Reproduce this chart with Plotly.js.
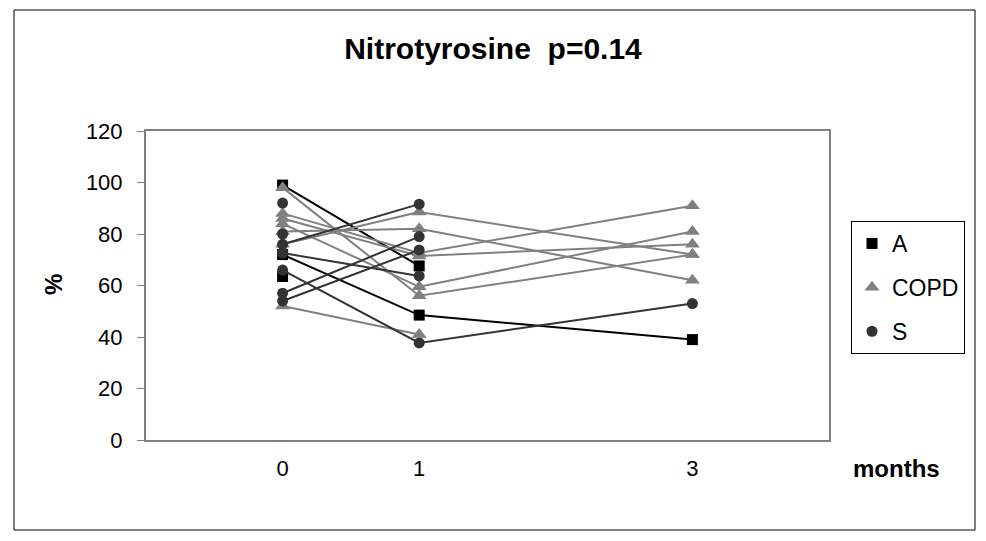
<!DOCTYPE html>
<html>
<head>
<meta charset="utf-8">
<script src="https://cdn.plot.ly/plotly-3.0.1.min.js"></script>
<style>html,body{margin:0;padding:0;background:#fff;}#chart{width:986px;height:541px;}</style>
</head>
<body>
<div id="chart"></div>
<script>
// x positions (months)
const months = [0, 1, 3];
const tickLabels = ["0", "1", "3"];

// Group A (black squares)
const A1 = [99, 67.6];
const A2 = [72, 48.5, 39];
const A3 = [63.5];

// COPD (grey triangles)
const C1 = [98, 56, 72];
const C2 = [76, 88.5, 72];
const C3 = [81, 82, 62];
const C4 = [88, 72.6, 91];
const C5 = [84, 59.5, 81];
const C6 = [52, 41];
const C7 = [86, 71.5, 76];

// S (dark grey circles)
const S1 = [76, 91.6];
const S2 = [57, 79];
const S3 = [54, 73.8];
const S4 = [66, 37.7, 53];
const S5 = [72.6, 63.7];
const S6 = [92];
const S7 = [80];

const groups = [
  {name: "A", color: "#000000", symbol: "square", size: 11, series: [A1, A2, A3]},
  {name: "COPD", color: "#808080", symbol: "triangle-up", size: 13, series: [C1, C2, C3, C4, C5, C6, C7]},
  {name: "S", color: "#333333", symbol: "circle", size: 11, series: [S1, S2, S3, S4, S5, S6, S7]}
];

const traces = [];
groups.forEach(g => {
  g.series.forEach(vals => {
    traces.push({
      x: months.slice(0, vals.length), y: vals,
      type: "scatter", mode: "lines+markers",
      line: {color: g.color, width: 2},
      marker: {color: g.color, symbol: g.symbol, size: g.size},
      showlegend: false, hoverinfo: "skip"
    });
  });
});
// legend-only entries (markers only)
groups.forEach((g, i) => {
  traces.push({
    x: [null], y: [null], type: "scatter", mode: "markers", name: g.name,
    legendgroup: "g" + i,
    marker: {color: g.color, symbol: g.symbol, size: g.size}
  });
});

const axisFont = {family: "Liberation Sans, Arial, sans-serif", size: 22, color: "#000"};
const layout = {
  width: 986, height: 541,
  margin: {l: 146, r: 157, t: 131, b: 101},
  paper_bgcolor: "#fff", plot_bgcolor: "#fff",
  title: {text: "<b>Nitrotyrosine \u00a0p=0.14</b>", x: 493/986, xanchor: "center", y: 1 - 48/541, yanchor: "middle",
          font: {family: "Liberation Sans, Arial, sans-serif", size: 30, color: "#000"}},
  xaxis: {range: [-1, 4], tickvals: months, ticktext: tickLabels, showgrid: false, zeroline: false,
          showline: true, linecolor: "#808080", linewidth: 2, mirror: true, ticks: "", ticklabelstandoff: 8,
          tickfont: axisFont, fixedrange: true},
  yaxis: {range: [0, 120], dtick: 20, showgrid: false, zeroline: false,
          showline: true, linecolor: "#808080", linewidth: 2, mirror: true,
          ticks: "outside", ticklen: 7, tickcolor: "#808080", tickwidth: 1, ticklabelstandoff: 10,
          tickfont: axisFont, fixedrange: true},
  showlegend: true,
  legend: {x: (851-146)/683, xanchor: "left", y: (440-221)/309, yanchor: "top",
           bordercolor: "#000", borderwidth: 1, bgcolor: "#fff", tracegroupgap: 11,
           font: {family: "Liberation Sans, Arial, sans-serif", size: 23, color: "#000"}, itemwidth: 30},
  annotations: [
    {text: "<b>months</b>", xref: "paper", yref: "paper", x: (896-146)/683, y: (440-468)/309,
     xanchor: "center", yanchor: "middle", showarrow: false,
     font: {family: "Liberation Sans, Arial, sans-serif", size: 24, color: "#000"}},
    {text: "<b>%</b>", xref: "paper", yref: "paper", x: (53-146)/683, y: (440-285)/309, textangle: -90,
     xanchor: "center", yanchor: "middle", showarrow: false,
     font: {family: "Liberation Sans, Arial, sans-serif", size: 24, color: "#000"}}
  ],
  shapes: [
    {type: "rect", xref: "paper", yref: "paper", x0: (14-146)/683, x1: (975-146)/683,
     y0: (440-530)/309, y1: (440-10)/309, line: {color: "#000", width: 1}, layer: "below"}
  ]
};
Plotly.newPlot("chart", traces, layout, {staticPlot: true});
</script>
</body>
</html>
